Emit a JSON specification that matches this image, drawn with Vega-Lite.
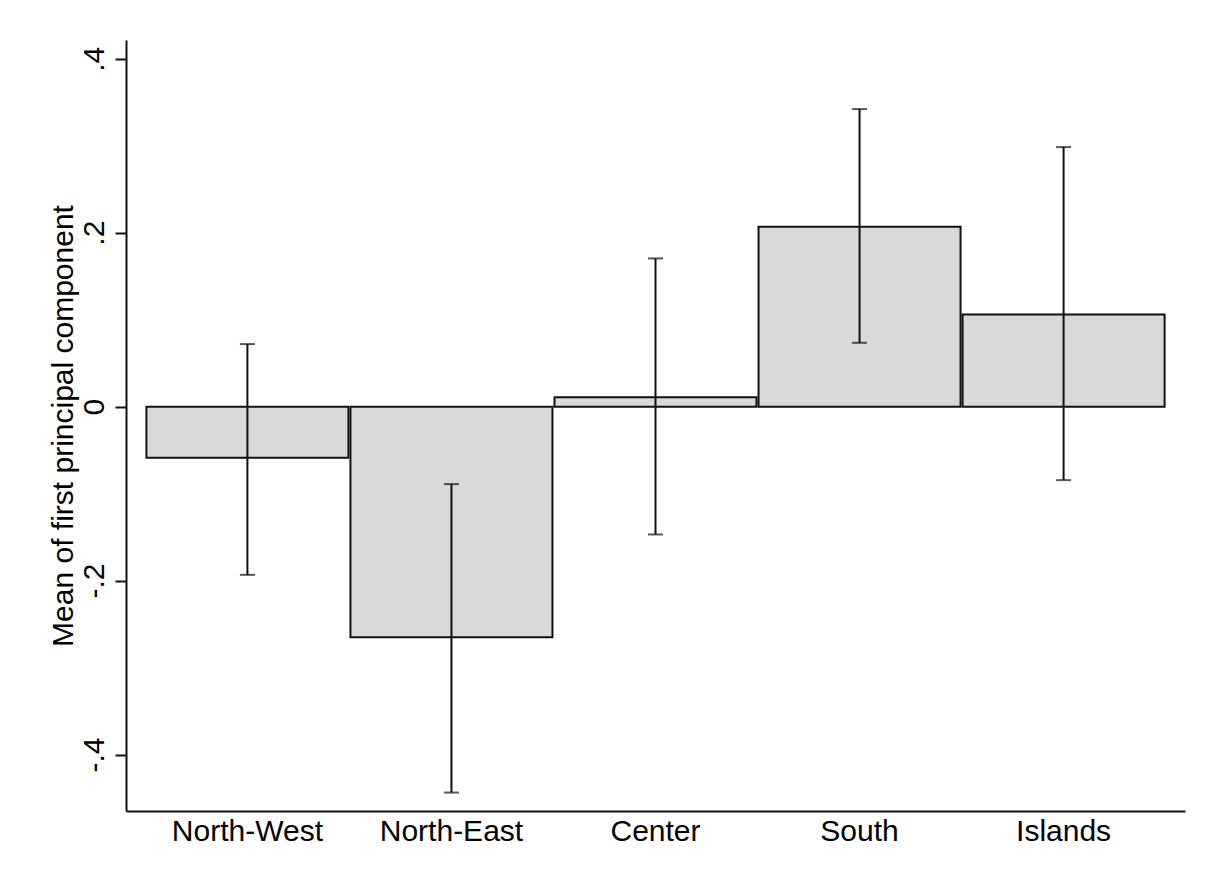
{
  "$schema": "https://vega.github.io/schema/vega-lite/v6.json",
  "autosize": "none",
  "width": 1059,
  "height": 771,
  "padding": {"left": 126, "top": 40, "right": 28, "bottom": 73},
  "background": "white",
  "config": {
    "view": {"stroke": null},
    "font": "Liberation Sans",
    "axis": {"grid": false, "domainColor": "#111111", "domainWidth": 2, "labelColor": "#000000", "titleColor": "#000000", "labelFont": "Liberation Sans", "titleFont": "Liberation Sans", "labelFontSize": 30, "titleFontSize": 30, "titleFontWeight": "normal"}
  },
  "data": {
    "values": [
      {"region": "North-West", "mean": -0.0589, "lo": -0.1934, "hi": 0.0719},
      {"region": "North-East", "mean": -0.2651, "lo": -0.4437, "hi": -0.0891},
      {"region": "Center", "mean": 0.0109, "lo": -0.147, "hi": 0.1704},
      {"region": "South", "mean": 0.2068, "lo": 0.0734, "hi": 0.3421},
      {"region": "Islands", "mean": 0.106, "lo": -0.0845, "hi": 0.2984}
    ]
  },
  "encoding": {
    "x": {
      "field": "region",
      "type": "nominal",
      "sort": null,
      "scale": {"paddingInner": 0.01, "paddingOuter": 0.1},
      "axis": {"title": null, "labelAngle": 0, "ticks": false, "labelPadding": 5, "labelBaseline": "top"}
    }
  },
  "layer": [
    {
      "mark": {"type": "bar", "fill": "#d9d9d9", "stroke": "#111111", "strokeWidth": 2},
      "encoding": {
        "y": {
          "field": "mean",
          "type": "quantitative",
          "scale": {"domain": [-0.4649, 0.4215], "nice": false, "zero": false},
          "axis": {
            "title": "Mean of first principal component",
            "values": [-0.4, -0.2, 0, 0.2, 0.4],
            "labelExpr": "datum.value == 0 ? '0' : (datum.value < 0 ? '-' : '') + '.' + round(abs(datum.value) * 10)",
            "labelAngle": -90,
            "labelAlign": "center",
            "labelBaseline": "bottom",
            "labelPadding": 6,
            "tickSize": 11,
            "tickWidth": 2,
            "tickColor": "#111111",
            "titlePadding": 1
          }
        },
        "y2": {"datum": 0}
      }
    },
    {
      "mark": {"type": "rule", "color": "#111111", "strokeWidth": 2},
      "encoding": {
        "y": {"field": "lo", "type": "quantitative"},
        "y2": {"field": "hi"}
      }
    },
    {
      "mark": {"type": "tick", "color": "#111111", "thickness": 2, "size": 15, "orient": "horizontal"},
      "encoding": {"y": {"field": "lo", "type": "quantitative"}}
    },
    {
      "mark": {"type": "tick", "color": "#111111", "thickness": 2, "size": 15, "orient": "horizontal"},
      "encoding": {"y": {"field": "hi", "type": "quantitative"}}
    }
  ]
}
